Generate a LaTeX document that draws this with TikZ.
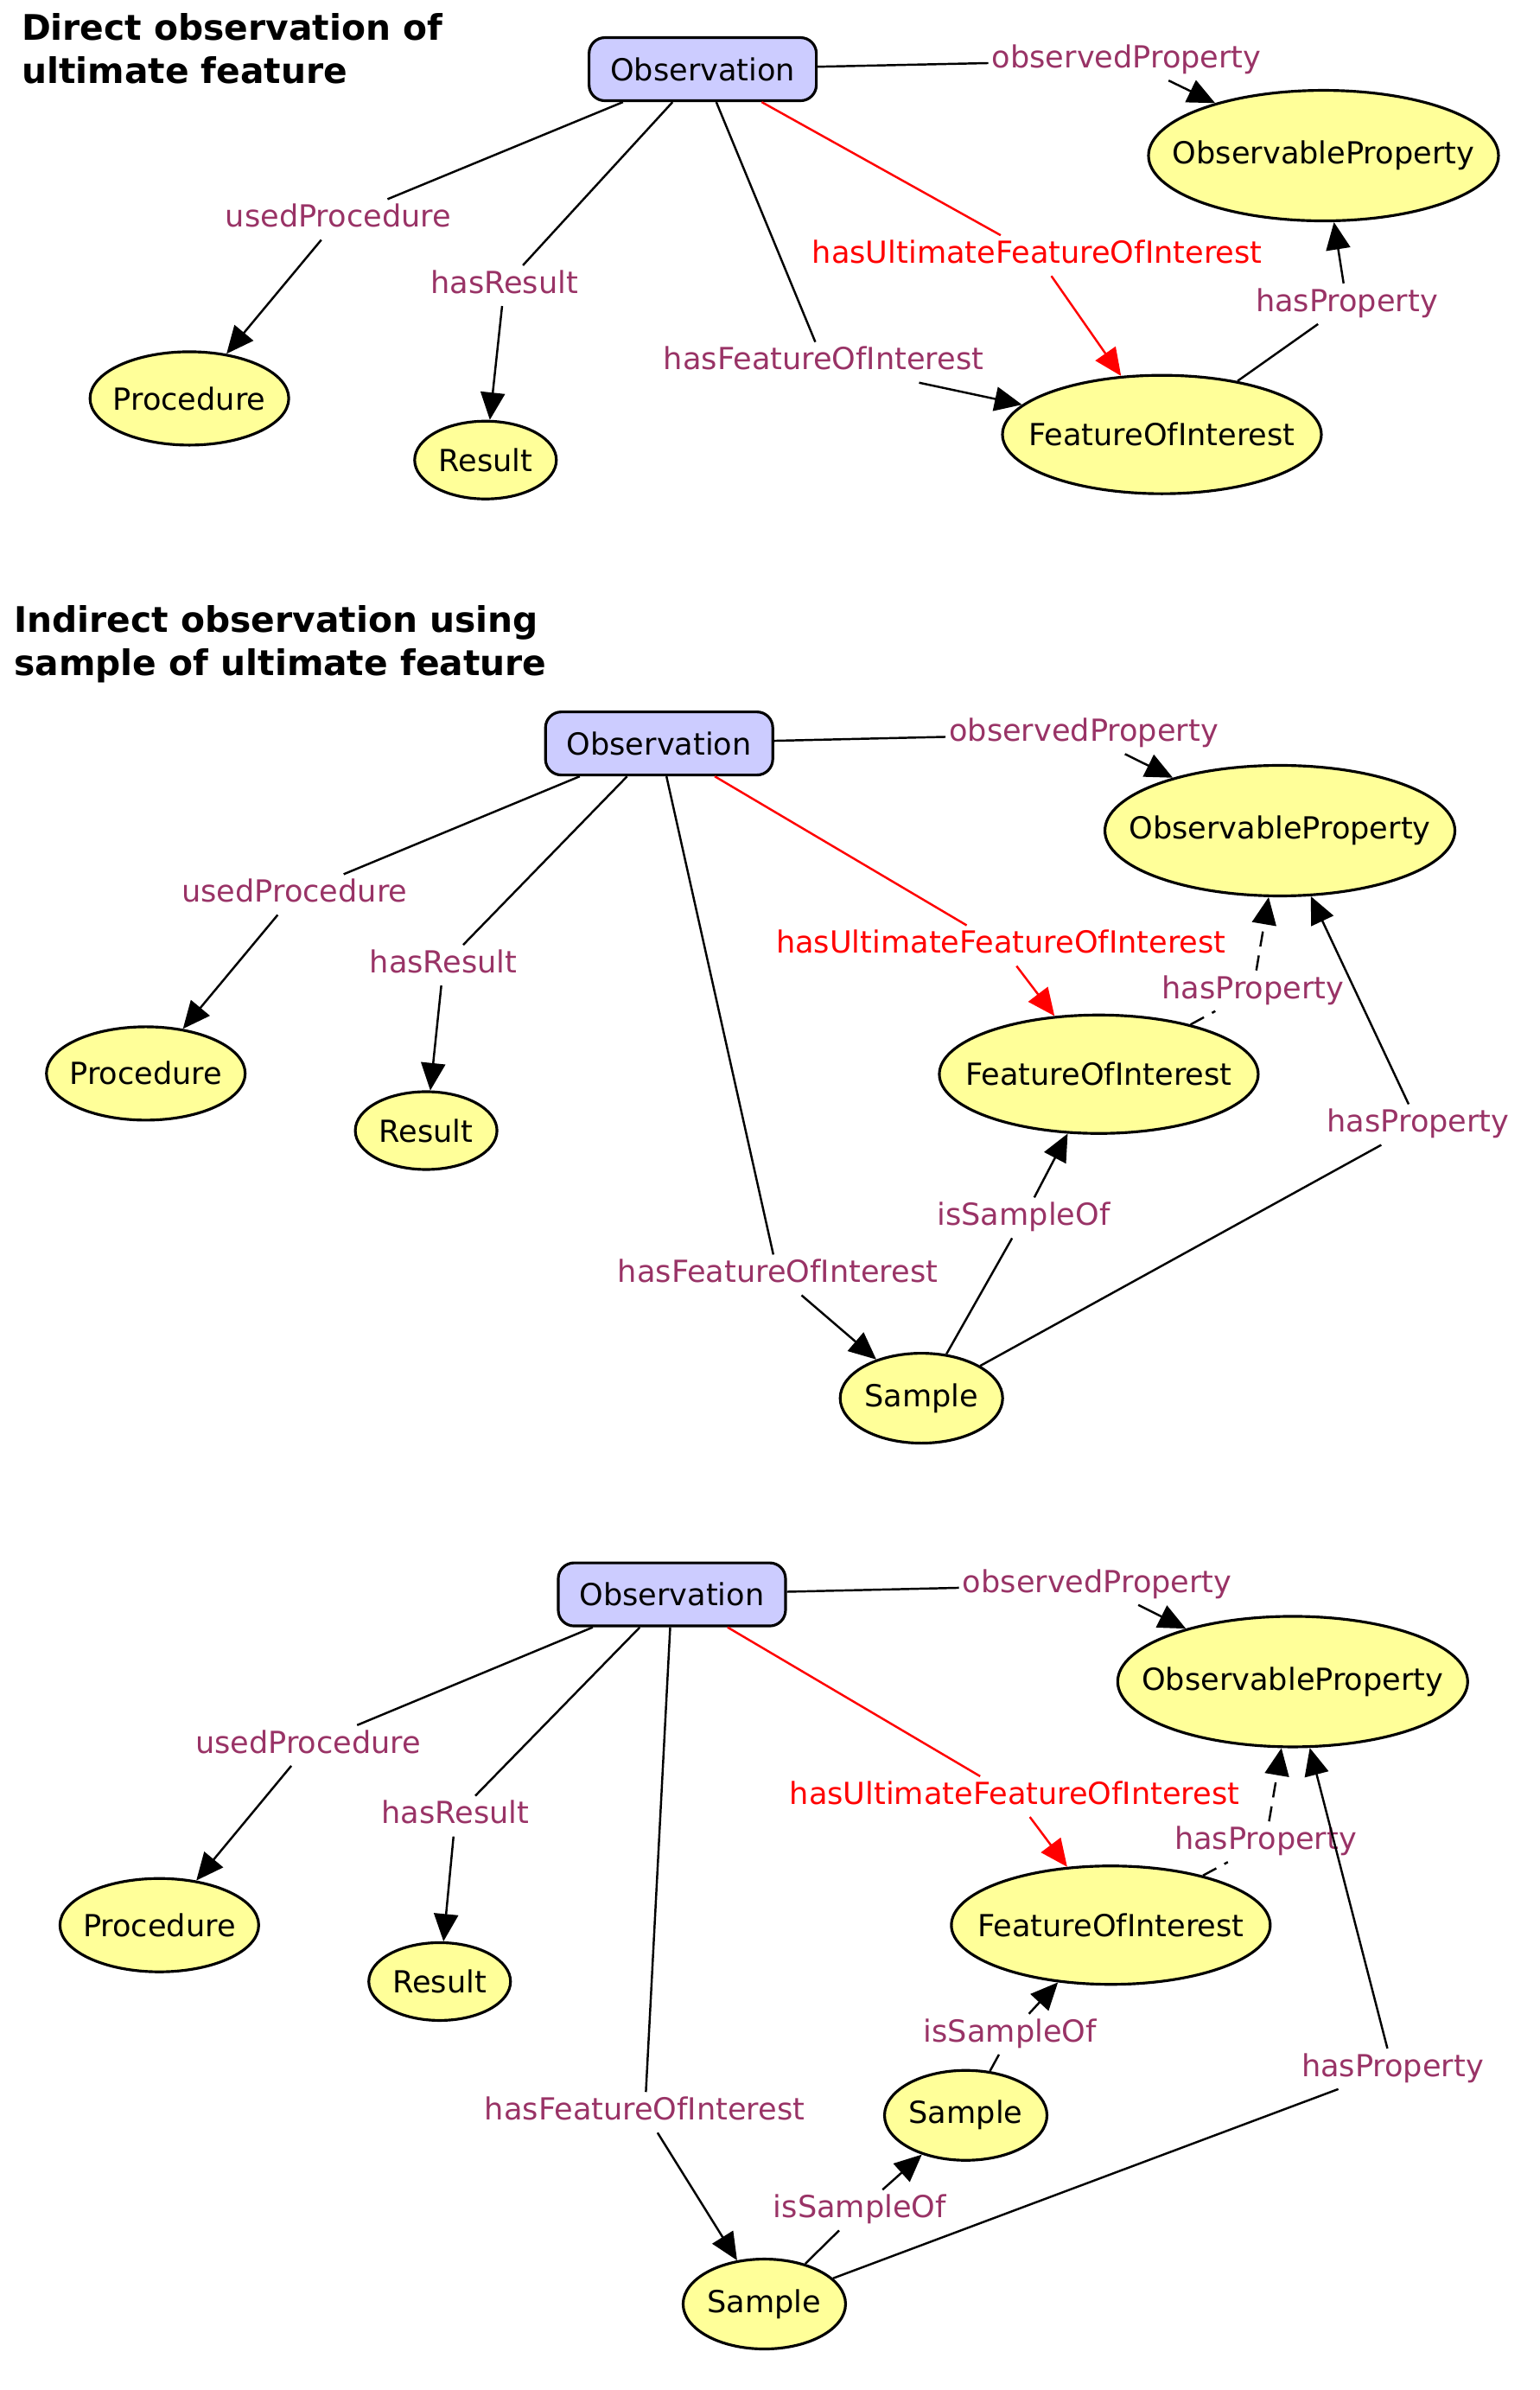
\documentclass[tikz,border=0pt]{standalone}
\usepackage{fontspec}
\setmainfont{DejaVu Sans}
\usetikzlibrary{arrows.meta,shapes.geometric}
\definecolor{lblcol}{RGB}{153,51,102}
\definecolor{ellcol}{RGB}{255,255,153}
\definecolor{obscol}{RGB}{204,204,255}
\newcommand{\zwtext}[1]{\makebox[0pt][c]{#1}}
\begin{document}
\begin{tikzpicture}[x=0.017393cm,y=-0.017393cm,
  every node/.style={font=\fontsize{10}{12}\selectfont},
  ttl/.style={anchor=base west, font=\fontsize{11.6}{14}\selectfont\bfseries, inner sep=0},
  obsbox/.style={draw, fill=obscol, rounded corners=5.2pt, minimum width=2.63cm, minimum height=0.73cm, inner sep=0, line width=0.9pt},
  cls/.style={draw, fill=ellcol, ellipse, inner sep=0, line width=0.9pt},
  opnode/.style={cls, minimum width=4.05cm, minimum height=1.51cm},
  prnode/.style={cls, minimum width=2.30cm, minimum height=1.08cm},
  renode/.style={cls, minimum width=1.64cm, minimum height=0.90cm},
  finode/.style={cls, minimum width=3.69cm, minimum height=1.37cm},
  sanode/.style={cls, minimum width=1.88cm, minimum height=1.04cm},
  lab/.style={text=lblcol, inner xsep=1pt, inner ysep=1.5pt, text height=7.5pt, text depth=2.5pt},
  redlab/.style={lab, text=red},
  conn/.style={line width=0.7pt, -{Triangle[length=9pt,width=8pt]}},
  redconn/.style={conn, draw=red},
  dashconn/.style={conn, dash pattern=on 5pt off 3pt}
]
\useasboundingbox (0,0) rectangle (1024,1589.7);

% ---------------- Section 1 ----------------
\node[ttl] (t1a) at (14,26.5) {Direct observation of};
\node[ttl] (t1b) at (14,55.5) {ultimate feature};

\node[obsbox] (o1) at (467.5,46) {Observation};
\node[opnode] (op1) at (880.5,103.5) {\zwtext{ObservableProperty}};
\node[prnode] (pr1) at (126,265) {\zwtext{Procedure}};
\node[renode] (re1) at (323,306) {\zwtext{Result}};
\node[finode] (fi1) at (773,289) {\zwtext{FeatureOfInterest}};

\node[lab] (l1op) at (749.5,40) {observedProperty};
\node[lab] (l1up) at (225,146) {usedProcedure};
\node[lab] (l1hr) at (335.5,190) {hasResult};
\node[lab] (l1hf) at (548,241) {hasFeatureOfInterest};
\node[redlab] (l1hu) at (690,170) {hasUltimateFeatureOfInterest};
\node[lab] (l1hp) at (896,202) {hasProperty};

\draw[conn] (o1) -- (l1op) -- (op1);
\draw[conn] (o1) -- (l1up) -- (pr1);
\draw[conn] (o1) -- (l1hr) -- (re1);
\draw[conn] (o1) -- (l1hf) -- (fi1);
\draw[redconn] (o1) -- (l1hu) -- (fi1);
\draw[conn] (fi1) -- (l1hp) -- (op1);

% ---------------- Section 2 ----------------
\node[ttl] (t2a) at (9,420.5) {Indirect observation using};
\node[ttl] (t2b) at (9,449.5) {sample of ultimate feature};

\node[obsbox] (o2) at (438.5,494.5) {Observation};
\node[opnode] (op2) at (851.5,552.5) {\zwtext{ObservableProperty}};
\node[prnode] (pr2) at (97,714) {\zwtext{Procedure}};
\node[renode] (re2) at (283.5,752) {\zwtext{Result}};
\node[finode] (fi2) at (731,714.5) {\zwtext{FeatureOfInterest}};
\node[sanode] (sa2) at (613,930) {\zwtext{Sample}};

\node[lab] (l2op) at (721,488) {observedProperty};
\node[lab] (l2up) at (196,595) {usedProcedure};
\node[lab] (l2hr) at (295,642) {hasResult};
\node[lab] (l2hf) at (517.5,848) {hasFeatureOfInterest};
\node[redlab] (l2hu) at (666,629) {hasUltimateFeatureOfInterest};
\node[lab] (l2hp) at (833.5,659) {hasProperty};
\node[lab] (l2is) at (681,810) {isSampleOf};
\node[lab] (l2hq) at (943.5,748) {hasProperty};

\draw[conn] (o2) -- (l2op) -- (op2);
\draw[conn] (o2) -- (l2up) -- (pr2);
\draw[conn] (o2) -- (l2hr) -- (re2);
\draw[conn] (o2) -- (l2hf) -- (sa2);
\draw[redconn] (o2) -- (l2hu) -- (fi2);
\draw[dashconn] (fi2) -- (l2hp) -- (op2);
\draw[conn] (sa2) -- (l2is) -- (fi2);
\draw[conn] (sa2) -- (l2hq) -- (op2);

% ---------------- Section 3 ----------------
\node[obsbox] (o3) at (447,1060.5) {Observation};
\node[opnode] (op3) at (860,1118.5) {\zwtext{ObservableProperty}};
\node[prnode] (pr3) at (106,1280.5) {\zwtext{Procedure}};
\node[renode] (re3) at (292.5,1318) {\zwtext{Result}};
\node[finode] (fi3) at (739,1280.5) {\zwtext{FeatureOfInterest}};
\node[sanode] (sa3m) at (642.5,1407) {\zwtext{Sample}};
\node[sanode] (sa3b) at (508.5,1532.5) {\zwtext{Sample}};

\node[lab] (l3op) at (730,1054) {observedProperty};
\node[lab] (l3up) at (205,1161) {usedProcedure};
\node[lab] (l3hr) at (303,1208) {hasResult};
\node[lab] (l3hf) at (429,1405) {hasFeatureOfInterest};
\node[redlab] (l3hu) at (675,1195) {hasUltimateFeatureOfInterest};
\node[lab] (l3hp) at (842,1225) {hasProperty};
\node[lab] (l3is) at (672,1353) {isSampleOf};
\node[lab] (l3it) at (572,1470) {isSampleOf};
\node[lab] (l3hq) at (926.5,1376) {hasProperty};

\draw[conn] (o3) -- (l3op) -- (op3);
\draw[conn] (o3) -- (l3up) -- (pr3);
\draw[conn] (o3) -- (l3hr) -- (re3);
\draw[conn] (o3) -- (l3hf) -- (sa3b);
\draw[redconn] (o3) -- (l3hu) -- (fi3);
\draw[dashconn] (fi3) -- (l3hp) -- (op3);
\draw[conn] (sa3m) -- (l3is) -- (fi3);
\draw[conn] (sa3b) -- (l3it) -- (sa3m);
\draw[conn] (sa3b) -- (l3hq) -- (op3);
\end{tikzpicture}
\end{document}
